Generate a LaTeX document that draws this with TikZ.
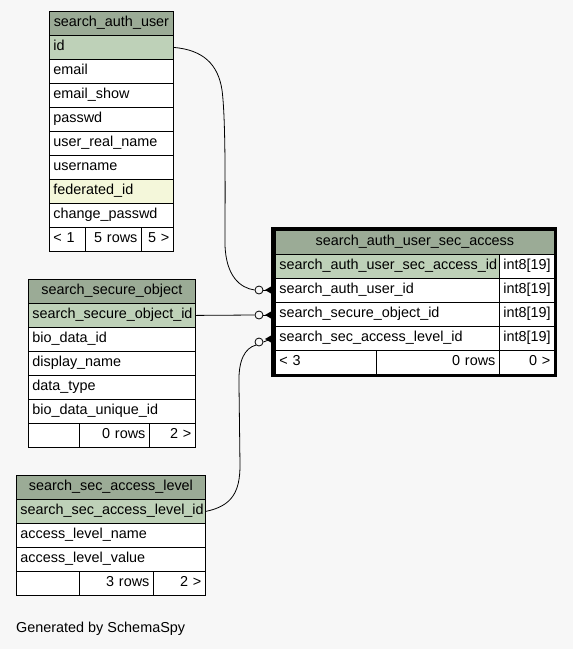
\documentclass[tikz,border=0pt]{standalone}
\usepackage{fontspec}
\setmainfont{Liberation Sans}
\usetikzlibrary{calc}
\definecolor{bg}{HTML}{F7F7F7}
\definecolor{hdr}{HTML}{9BAB96}
\definecolor{pk}{HTML}{BED1B8}
\definecolor{idx}{HTML}{F4F7DA}
\newcommand\lcell[7]{%
  \pgfmathsetmacro\tw{#4-8}%
  \node[cell, fill=#5, text width=\tw pt, align=#7] (#1) at (#2,#3) {\mbox{#6}};}
\newcommand\crowat[1]{\fill ($(#1)+(-6,0)$) -- ($(#1)+(0,-3.5)$) -- ($(#1)+(0,3.5)$) -- cycle;}
\begin{document}
\begin{tikzpicture}[x=1pt,y=-1pt,
  cell/.style={draw=black, line width=0.8pt, anchor=north west, minimum height=24pt,
    inner xsep=4pt, inner ysep=0pt, font=\fontsize{14.4}{16}\selectfont,
    text height=10pt, text depth=3pt},
  conn/.style={line width=0.8pt},
  circ/.style={circle, draw=black, line width=0.8pt, fill=bg, minimum size=8pt, inner sep=0pt}]
\fill[bg] (0,0) rectangle (573,649);
\useasboundingbox (0,0) rectangle (573,649);

% search_auth_user
\lcell{t1h}{49}{11}{124}{hdr}{search\_auth\_user}{center}
\lcell{t1-id}{49}{35}{124}{pk}{id}{left}
\lcell{t1-em}{49}{59}{124}{white}{email}{left}
\lcell{t1-es}{49}{83}{124}{white}{email\_show}{left}
\lcell{t1-pw}{49}{107}{124}{white}{passwd}{left}
\lcell{t1-rn}{49}{131}{124}{white}{user\_real\_name}{left}
\lcell{t1-un}{49}{155}{124}{white}{username}{left}
\lcell{t1-fd}{49}{179}{124}{idx}{federated\_id}{left}
\lcell{t1-cp}{49}{203}{124}{white}{change\_passwd}{left}
\lcell{t1-f1}{49}{227}{36}{white}{< 1}{left}
\lcell{t1-f2}{85}{227}{56}{white}{5 rows}{right}
\lcell{t1-f3}{141}{227}{32}{white}{5 >}{right}

% search_secure_object
\lcell{t2h}{28}{279}{167}{hdr}{search\_secure\_object}{center}
\lcell{t2-id}{28}{303}{167}{pk}{search\_secure\_object\_id}{left}
\lcell{t2-bd}{28}{327}{167}{white}{bio\_data\_id}{left}
\lcell{t2-dn}{28}{351}{167}{white}{display\_name}{left}
\lcell{t2-dt}{28}{375}{167}{white}{data\_type}{left}
\lcell{t2-bu}{28}{399}{167}{white}{bio\_data\_unique\_id}{left}
\lcell{t2-f1}{28}{423}{51}{white}{}{left}
\lcell{t2-f2}{79}{423}{70}{white}{0 rows}{right}
\lcell{t2-f3}{149}{423}{46}{white}{2 >}{right}

% search_sec_access_level
\lcell{t3h}{16}{475}{189}{hdr}{search\_sec\_access\_level}{center}
\lcell{t3-id}{16}{499}{189}{pk}{search\_sec\_access\_level\_id}{left}
\lcell{t3-nm}{16}{523}{189}{white}{access\_level\_name}{left}
\lcell{t3-vl}{16}{547}{189}{white}{access\_level\_value}{left}
\lcell{t3-f1}{16}{571}{63}{white}{}{left}
\lcell{t3-f2}{79}{571}{74}{white}{3 rows}{right}
\lcell{t3-f3}{153}{571}{52}{white}{2 >}{right}

% search_auth_user_sec_access
\lcell{t4h}{275}{230}{279}{hdr}{search\_auth\_user\_sec\_access}{center}
\lcell{t4-id}{275}{254}{224}{pk}{search\_auth\_user\_sec\_access\_id}{left}
\lcell{t4-idt}{499}{254}{55}{white}{int8[19]}{left}
\lcell{t4-au}{275}{278}{224}{white}{search\_auth\_user\_id}{left}
\lcell{t4-aut}{499}{278}{55}{white}{int8[19]}{left}
\lcell{t4-so}{275}{302}{224}{white}{search\_secure\_object\_id}{left}
\lcell{t4-sot}{499}{302}{55}{white}{int8[19]}{left}
\lcell{t4-al}{275}{326}{224}{white}{search\_sec\_access\_level\_id}{left}
\lcell{t4-alt}{499}{326}{55}{white}{int8[19]}{left}
\lcell{t4-f1}{275}{350}{101}{white}{< 3}{left}
\lcell{t4-f2}{376}{350}{123}{white}{0 rows}{right}
\lcell{t4-f3}{499}{350}{55}{white}{0 >}{right}
\draw[line width=3.5pt] (273,228.3) rectangle (555.5,375.7);

% connectors
\node[circ] (c1) at (259,290) {};
\node[circ] (c2) at (259,315) {};
\node[circ] (c3) at (259,342) {};
\coordinate (k1) at (271,290);
\coordinate (k2) at (271,315);
\coordinate (k3) at (271,339);
\draw[conn] (t1-id.east) .. controls (203,50) and (218,64) .. (222,90)
  .. controls (226,120) and (225,200) .. (225,245)
  .. controls (226,276) and (240,288) .. (c1.west);
\draw[conn] (c1.east) -- (k1);
\crowat{k1}
\draw[conn] (t2-id.east) -- (c2.west);
\draw[conn] (c2.east) -- (k2);
\crowat{k2}
\draw[conn] (t3-id.east) .. controls (232,506) and (240,492) .. (240,465) -- (239,385)
  .. controls (238,360) and (245,348) .. (c3.south west);
\draw[conn] (c3.east) -- (k3);
\crowat{k3}

\node[anchor=west, inner sep=0pt, font=\fontsize{14.4}{16}\selectfont] (gen) at (16,629) {Generated by SchemaSpy};
\end{tikzpicture}
\end{document}
